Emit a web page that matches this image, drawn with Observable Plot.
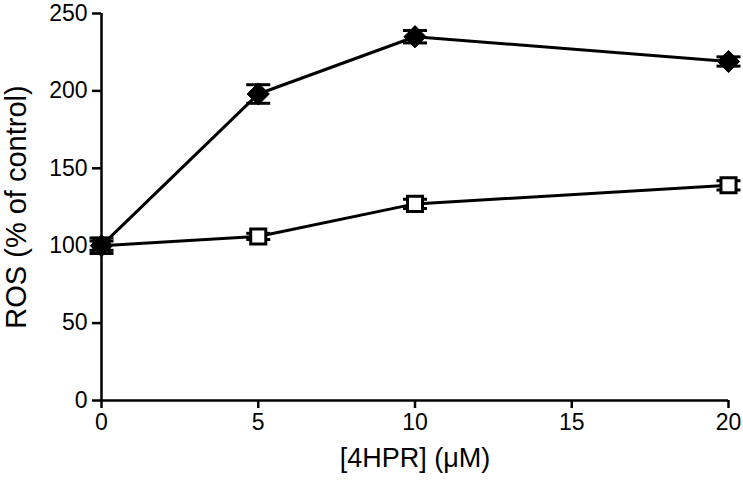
<!DOCTYPE html>
<html><head><meta charset="utf-8">
<script src="https://cdn.jsdelivr.net/npm/d3@7"></script>
<script src="https://cdn.jsdelivr.net/npm/@observablehq/plot@0.6"></script>
<style>
body{margin:0;background:#fff}
svg{font-family:"Liberation Sans",Arial,sans-serif}
</style>
</head><body><div id="chart"></div>
<script>
const conc = [0, 5, 10, 20];
const rosDiamond = [100, 198, 235, 219];
const errDiamond = [5, 6, 4, 3];
const rosSquare = [100, 106, 127, 139];
const errSquare = [3, 2, 3, 3];
const xTicks = [0, 5, 10, 15, 20];
const yTicks = [0, 50, 100, 150, 200, 250];
const xLabel = "[4HPR] (μM)";
const yLabel = "ROS (% of control)";

const diamonds = conc.map((c, i) => ({x: c, y: rosDiamond[i], e: errDiamond[i]}));
const squares = conc.map((c, i) => ({x: c, y: rosSquare[i], e: errSquare[i]}));
const all = [...diamonds, ...squares];
const caps = all.flatMap(d => [{x: d.x, y: d.y + d.e}, {x: d.x, y: d.y - d.e}]);

const capSymbol = {draw(ctx) { ctx.moveTo(-12, 0); ctx.lineTo(12, 0); }};

const chart = Plot.plot({
  width: 743, height: 481,
  marginLeft: 101, marginRight: 15, marginTop: 13, marginBottom: 81,
  x: {domain: [0, 20]},
  y: {domain: [0, 250]},
  style: {background: "#fff", color: "#000"},
  marks: [
    Plot.axisX({ticks: xTicks, tickSize: 8, tickPadding: 5, fontSize: 23, label: null, strokeWidth: 2.5}),
    Plot.axisY({ticks: yTicks, tickSize: 9, tickPadding: 5, fontSize: 23, label: null, strokeWidth: 2.5}),
    Plot.ruleY([0], {stroke: "#000", strokeWidth: 2.5}),
    Plot.ruleX([0], {stroke: "#000", strokeWidth: 2.5}),
    Plot.line(diamonds, {x: "x", y: "y", stroke: "#000", strokeWidth: 3}),
    Plot.line(squares, {x: "x", y: "y", stroke: "#000", strokeWidth: 3}),
    Plot.ruleX(all, {x: "x", y1: d => d.y - d.e, y2: d => d.y + d.e, stroke: "#000", strokeWidth: 3}),
    Plot.dot(caps, {x: "x", y: "y", symbol: capSymbol, stroke: "#000", strokeWidth: 3, r: 5}),
    Plot.dot(squares, {x: "x", y: "y", symbol: "square", r: 8.5, fill: "#fff", stroke: "#000", strokeWidth: 3}),
    Plot.dot(diamonds, {x: "x", y: "y", symbol: "diamond2", r: 10, fill: "#000", stroke: "#000", strokeWidth: 1}),
    Plot.text([yLabel], {frameAnchor: "left", dx: -85, rotate: -90, textAnchor: "middle", fontSize: 29, fill: "#000"}),
    Plot.text([xLabel], {frameAnchor: "bottom", dy: 66, textAnchor: "middle", fontSize: 27, fill: "#000"})
  ]
});
document.getElementById("chart").appendChild(chart);
</script>
</body></html>
